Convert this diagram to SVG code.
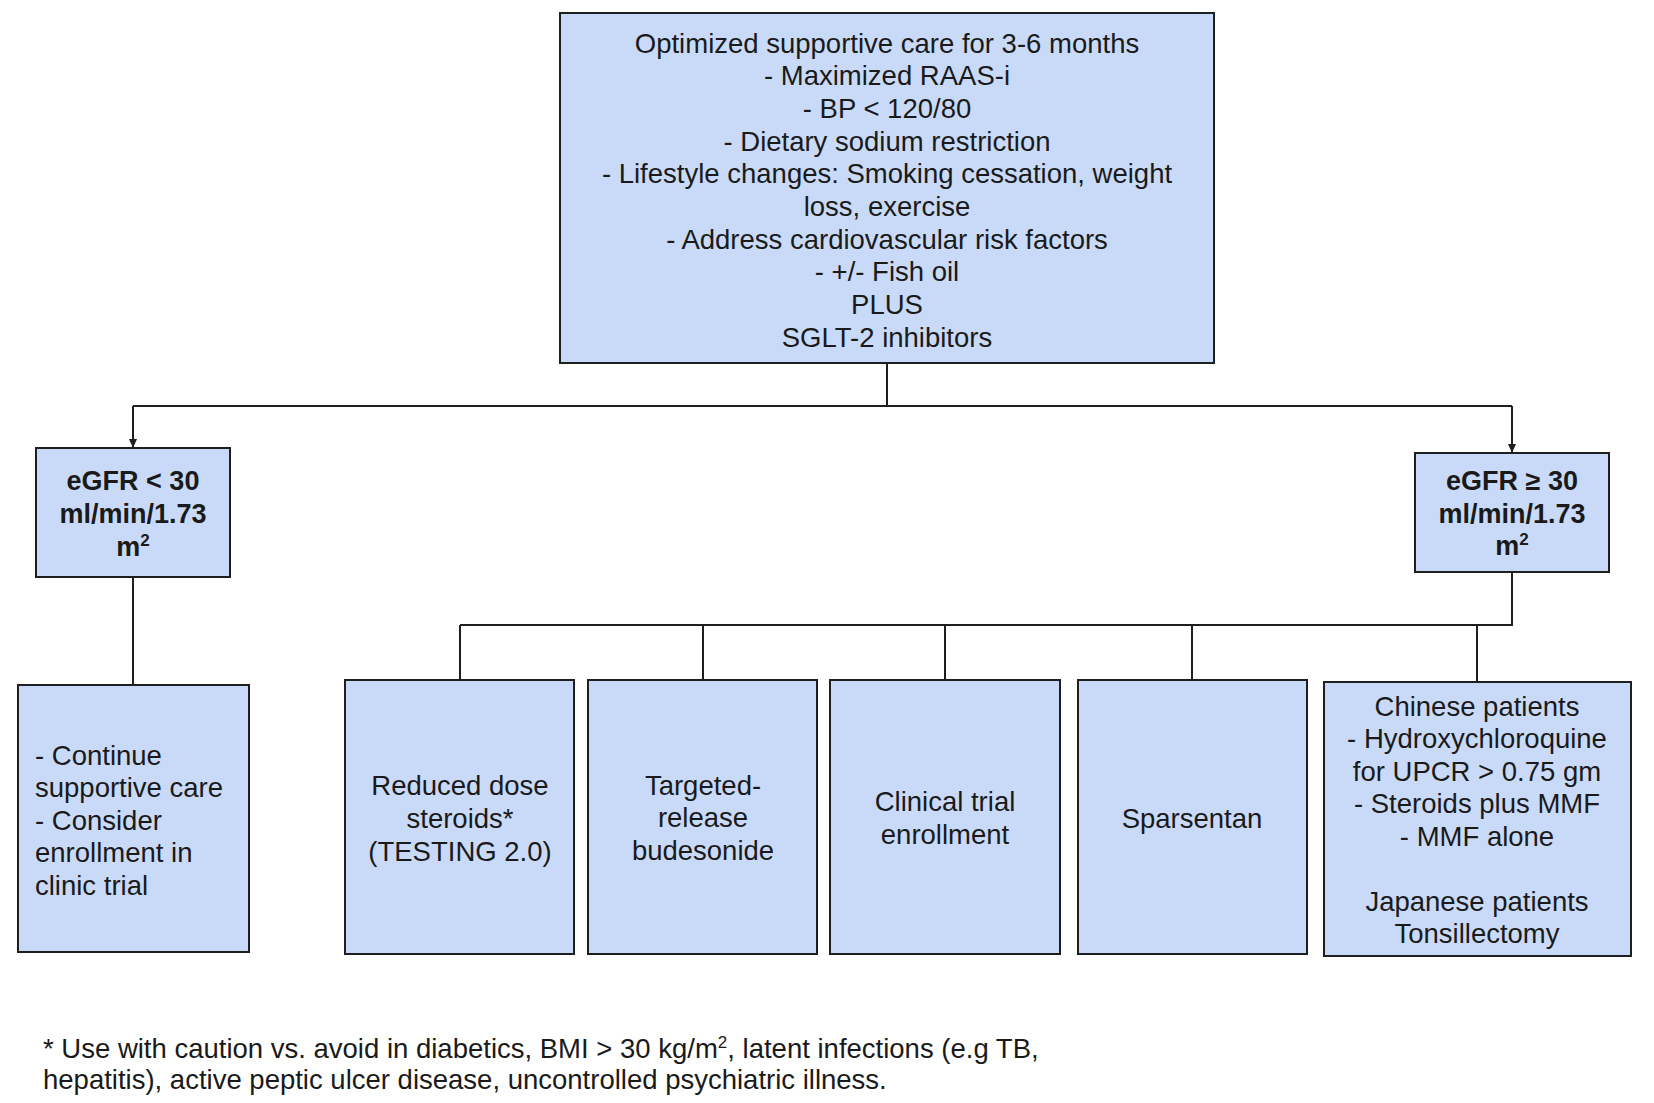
<svg xmlns="http://www.w3.org/2000/svg" width="1654" height="1103" viewBox="0 0 1654 1103">
<style>
.box{fill:#c9daf8;stroke:#1f1f1f;stroke-width:2}
.t{font-family:"Liberation Sans",Arial,sans-serif;font-size:27.5px;fill:#1a1a1a}
.c{text-anchor:middle}
.b{font-weight:bold;font-size:27px}
.sup{font-size:17px}
.line{fill:none;stroke:#1f1f1f;stroke-width:2}
</style>
<defs>
<marker id="arr" markerWidth="10" markerHeight="10" refX="8" refY="5" orient="auto" markerUnits="userSpaceOnUse">
<path d="M0,1 L9,5 L0,9 Z" fill="#1f1f1f"/>
</marker>
</defs>
<rect width="1654" height="1103" fill="#ffffff"/>
<g id="connectors">
<path class="line" d="M887,363 V406"/>
<path class="line" d="M133,406 H1512"/>
<path class="line" d="M133,406 V447" marker-end="url(#arr)"/>
<path class="line" d="M1512,406 V452" marker-end="url(#arr)"/>
<path class="line" d="M133,577 V685"/>
<path class="line" d="M1512,572 V625 H460"/>
<path class="line" d="M460,625 V680"/>
<path class="line" d="M703,625 V680"/>
<path class="line" d="M945,625 V680"/>
<path class="line" d="M1192,625 V680"/>
<path class="line" d="M1477,625 V682"/>
</g>
<g id="node-supportive">
<rect class="box" x="560" y="13" width="654" height="350"/>
<text class="t c" x="887" y="52.5">Optimized supportive care for 3-6 months<tspan x="887" dy="32.7">- Maximized RAAS-i</tspan><tspan x="887" dy="32.7">- BP &lt; 120/80</tspan><tspan x="887" dy="32.7">- Dietary sodium restriction</tspan><tspan x="887" dy="32.7">- Lifestyle changes: Smoking cessation, weight</tspan><tspan x="887" dy="32.7">loss, exercise</tspan><tspan x="887" dy="32.7">- Address cardiovascular risk factors</tspan><tspan x="887" dy="32.7">- +/- Fish oil</tspan><tspan x="887" dy="32.7">PLUS</tspan><tspan x="887" dy="32.7">SGLT-2 inhibitors</tspan></text>
</g>
<g id="node-egfr-low">
<rect class="box" x="36" y="448" width="194" height="129"/>
<text class="t c b" x="133" y="489.5">eGFR &lt; 30<tspan x="133" dy="33">ml/min/1.73</tspan><tspan x="133" dy="33">m</tspan><tspan class="sup" dy="-10">2</tspan></text>
</g>
<g id="node-egfr-high">
<rect class="box" x="1415" y="453" width="194" height="119"/>
<text class="t c b" x="1512" y="489.5">eGFR ≥ 30<tspan x="1512" dy="33">ml/min/1.73</tspan><tspan x="1512" dy="32">m</tspan><tspan class="sup" dy="-10">2</tspan></text>
</g>
<g id="node-continue">
<rect class="box" x="18" y="685" width="231" height="267"/>
<text class="t" x="35" y="764.5">- Continue<tspan x="35" dy="32.6">supportive care</tspan><tspan x="35" dy="32.6">- Consider</tspan><tspan x="35" dy="32.6">enrollment in</tspan><tspan x="35" dy="32.6">clinic trial</tspan></text>
</g>
<g id="node-steroids">
<rect class="box" x="345" y="680" width="229" height="274"/>
<text class="t c" x="460" y="794.5">Reduced dose<tspan x="460" dy="33">steroids*</tspan><tspan x="460" dy="33">(TESTING 2.0)</tspan></text>
</g>
<g id="node-budesonide">
<rect class="box" x="588" y="680" width="229" height="274"/>
<text class="t c" x="703" y="794.5">Targeted-<tspan x="703" dy="32.5">release</tspan><tspan x="703" dy="32.5">budesonide</tspan></text>
</g>
<g id="node-trial">
<rect class="box" x="830" y="680" width="230" height="274"/>
<text class="t c" x="945" y="811">Clinical trial<tspan x="945" dy="32.5">enrollment</tspan></text>
</g>
<g id="node-sparsentan">
<rect class="box" x="1078" y="680" width="229" height="274"/>
<text class="t c" x="1192" y="827.5">Sparsentan</text>
</g>
<g id="node-regional">
<rect class="box" x="1324" y="682" width="307" height="274"/>
<text class="t c" x="1477" y="715.5">Chinese patients<tspan x="1477" dy="32.5">- Hydroxychloroquine</tspan><tspan x="1477" dy="32.5">for UPCR &gt; 0.75 gm</tspan><tspan x="1477" dy="32.5">- Steroids plus MMF</tspan><tspan x="1477" dy="32.5">- MMF alone</tspan><tspan x="1477" dy="65">Japanese patients</tspan><tspan x="1477" dy="32.5">Tonsillectomy</tspan></text>
</g>
<g id="footnote">
<text class="t" x="43" y="1057.5">* Use with caution vs. avoid in diabetics, BMI &gt; 30 kg/m<tspan class="sup" dy="-10">2</tspan><tspan dy="10">, latent infections (e.g TB,</tspan><tspan x="43" dy="31">hepatitis), active peptic ulcer disease, uncontrolled psychiatric illness.</tspan></text>
</g>
</svg>
